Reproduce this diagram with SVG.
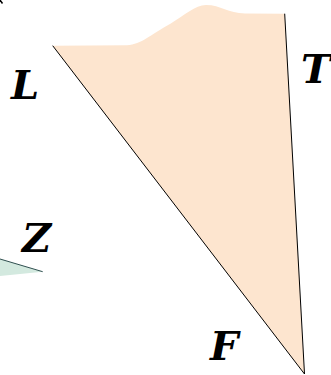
<svg xmlns="http://www.w3.org/2000/svg" width="331" height="375" viewBox="0 0 331 375">
<style>
.lbl{font-family:"DejaVu Serif","Liberation Serif",serif;font-weight:bold;font-style:italic;font-size:40px;fill:#000}
.edge{stroke:#000;stroke-width:1;fill:none}
</style>
<rect width="331" height="375" fill="#fff"/>
<g id="corner"><line x1="0" y1="0" x2="2.5" y2="3.5" stroke="#000" stroke-width="1.5"/></g>
<g id="teal">
<polygon points="0,259 42.7,271.7 0,276" fill="#d3e9df"/>
<line x1="0" y1="259" x2="42.7" y2="271.7" stroke="#2f4f4f" stroke-width="1"/>
</g>
<g id="peach">
<path d="M52.7,45.7 L127,45.3 C142,44 150,35 170,24 C185,15 195,5 206,5 C221,5 228,13.3 245,13.5 L284.7,13.7 L304.5,374 Z" fill="#fde5cf"/>
</g>
<g id="connectors">
<line class="edge" x1="52.7" y1="45.7" x2="304.5" y2="374"/>
<line class="edge" x1="284.7" y1="13.7" x2="304.5" y2="374"/>
</g>
<g id="label-L"><text class="lbl" x="11" y="99">L</text></g>
<g id="label-T"><text class="lbl" x="301" y="83">T</text></g>
<g id="label-Z"><text class="lbl" x="22" y="252">Z</text></g>
<g id="label-F"><text class="lbl" x="210" y="360">F</text></g>
</svg>
